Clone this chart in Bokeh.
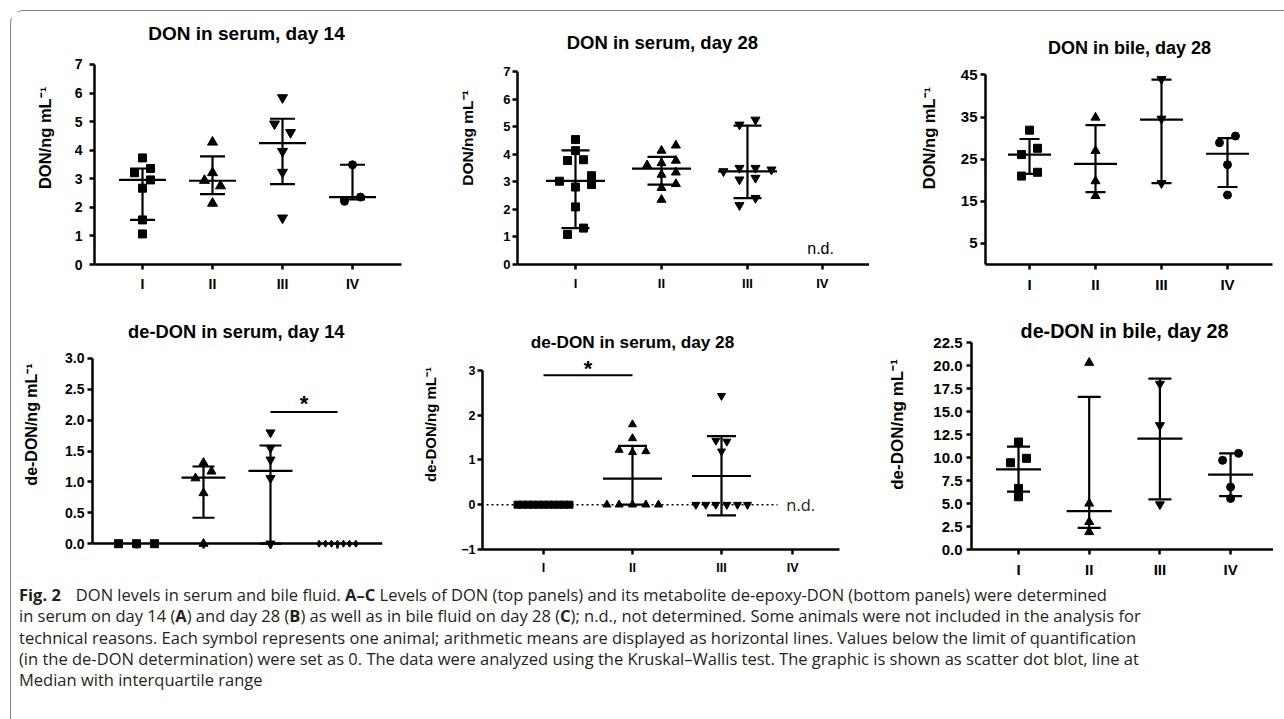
from bokeh.plotting import figure
from bokeh.layouts import row, column
from bokeh.models import Div, Label, FixedTicker, Range1d, NumeralTickFormatter
from bokeh.embed import file_html
from bokeh.resources import INLINE

GROUPS = ["I", "II", "III", "IV"]
MARKERS = ["square", "triangle", "inverted_triangle", "circle"]

# ---------------- A: DON in serum, day 14 (ng/mL) ----------------
don_s14_I = [3.73, 3.36, 3.21, 2.96, 2.67, 1.56, 1.07]
don_s14_II = [4.28, 3.21, 2.94, 2.75, 2.14]
don_s14_III = [5.84, 4.92, 4.62, 3.96, 3.23, 1.63]
don_s14_IV = [3.49, 2.36, 2.21]
don_s14_slots = [[0, 1, -1, 1, 0, 0, 0], [0, 0, -1, 1, 0], [0, -1, 1, 0, 0, 0], [0, 1, -1]]
don_s14_median = [2.96, 2.93, 4.25, 2.36]
don_s14_q1 = [1.56, 2.46, 2.81, 2.28]
don_s14_q3 = [3.36, 3.78, 5.10, 3.49]

# ---------------- B: DON in serum, day 28 ----------------
don_s28_I = [4.53, 4.13, 3.77, 3.80, 3.02, 3.22, 2.90, 2.81, 2.09, 1.32, 1.09]
don_s28_II = [4.32, 4.13, 3.60, 3.68, 3.77, 3.34, 3.26, 2.78, 2.92, 2.35]
don_s28_III = [5.07, 5.25, 3.38, 3.50, 3.50, 3.44, 3.08, 3.14, 2.41, 2.15]
don_s28_slots = [[0, 0, -1, 1, -2, 2, 2, 0, 0, 1, -1],
                 [1.8, 0, -1.8, 0, 1.8, 1.8, 0, 0, 1.8, 0],
                 [-1, 1, -3, -1, 1, 3, -1, 1, 1, -1]]
don_s28_median = [3.03, 3.48, 3.38]
don_s28_q1 = [1.32, 2.90, 2.41]
don_s28_q3 = [4.14, 3.90, 5.04]

# ---------------- C: DON in bile, day 28 ----------------
don_b28_I = [31.9, 27.6, 26.1, 21.9, 21.0]
don_b28_II = [34.9, 27.0, 19.8, 16.3]
don_b28_III = [44.0, 34.6, 19.3]
don_b28_IV = [28.9, 30.5, 23.7, 16.5]
don_b28_slots = [[0, 1, -1, 1, -1], [0, 0, 0, 0], [0, 0, 0], [-1, 1, 0, 0]]
don_b28_median = [26.1, 23.9, 34.4, 26.3]
don_b28_q1 = [21.5, 17.2, 19.3, 18.4]
don_b28_q3 = [29.8, 33.1, 43.9, 30.0]

# ---------------- D: de-DON in serum, day 14 ----------------
dedon_s14_I = [0, 0, 0]
dedon_s14_II = [1.31, 1.17, 1.06, 0.82, 0.0]
dedon_s14_III = [1.80, 1.55, 1.36, 1.06, 0.0]
dedon_s14_IV = [0, 0, 0, 0, 0, 0, 0]
dedon_s14_slots = [[-2.25, 0, 2.25], [0, 1, -1, 0, 0], [0, 0, 0, 0, 0],
                   [-2.3, -1.5, -0.75, 0, 0.75, 1.5, 2.3]]
dedon_s14_stat_groups = [2, 3]
dedon_s14_median = [1.07, 1.18]
dedon_s14_q1 = [0.42, 0.0]
dedon_s14_q3 = [1.25, 1.59]

# ---------------- E: de-DON in serum, day 28 ----------------
dedon_s28_I = [0, 0, 0, 0, 0, 0, 0, 0, 0, 0, 0]
dedon_s28_II = [1.79, 1.48, 1.22, 1.17, 1.19, 0, 0, 0, 0, 0]
dedon_s28_III = [2.43, 1.43, 1.41, 1.19, 0, 0, 0, 0, 0, 0]
dedon_s28_slots = [[-3.25, -2.6, -1.95, -1.3, -0.65, 0, 0.65, 1.3, 1.95, 2.6, 3.25],
                   [0, 0, -1.67, 0, 1.67, -3.2, -1.67, 0, 1.67, 3.25],
                   [0, -0.7, 0.67, 0, -3.2, -1.96, -0.71, 0.67, 2.0, 3.25]]
dedon_s28_stat_groups = [2, 3]
dedon_s28_median = [0.58, 0.64]
dedon_s28_q1 = [0.0, -0.24]
dedon_s28_q3 = [1.31, 1.53]

# ---------------- F: de-DON in bile, day 28 ----------------
dedon_b28_I = [11.68, 9.91, 9.43, 6.64, 5.73]
dedon_b28_II = [20.3, 5.0, 3.0, 1.9]
dedon_b28_III = [18.0, 13.5, 4.9]
dedon_b28_IV = [9.69, 10.45, 6.79, 5.55]
dedon_b28_slots = [[0, 1, -1, 0, 0], [0, 0, 0, 0], [0, 0, 0], [-1, 1, 0, 0]]
dedon_b28_median = [8.71, 4.17, 12.05, 8.13]
dedon_b28_q1 = [6.28, 2.36, 5.44, 5.81]
dedon_b28_q3 = [11.18, 16.6, 18.58, 10.45]

INK = "#000000"
AXFONT = "Liberation Sans"
CAPFONT = "Open Sans"
SLOT_PX = 8.0


def make_panel(w, h, left, right, bottom, xr, ybounds, head_px, axis_px, xticks, yticks,
               ylabel, fs_tick, fs_label, y_standoff, label_standoff, yfmt=None):
    """axis_px: pixel length of the y axis; head_px: free space above it (for the title)."""
    y0, y1 = ybounds
    ppu = axis_px / (y1 - y0)
    ytop = y1 + head_px / ppu
    p = figure(width=w, height=h, x_range=Range1d(*xr), y_range=Range1d(y0, ytop),
               output_backend="svg", toolbar_location=None, title=None,
               min_border_left=left, min_border_right=right,
               min_border_top=0, min_border_bottom=h - head_px - axis_px)
    p.grid.visible = False
    p.outline_line_color = None
    p.background_fill_color = "white"
    p.border_fill_color = "white"
    xa, ya = p.xaxis[0], p.yaxis[0]
    for ax in (xa, ya):
        ax.axis_line_width = 2.5
        ax.axis_line_color = INK
        ax.major_tick_line_width = 2.5
        ax.major_tick_line_color = INK
        ax.major_tick_out = 5
        ax.major_tick_in = 0
        ax.minor_tick_line_color = None
        ax.major_label_text_font = AXFONT
        ax.major_label_text_font_style = "bold"
        ax.major_label_text_font_size = f"{fs_tick}px"
        ax.major_label_text_color = INK
    xa.ticker = FixedTicker(ticks=xticks)
    xa.major_label_overrides = dict(zip(xticks, GROUPS))
    xa.major_label_standoff = 6
    ya.ticker = FixedTicker(ticks=yticks)
    ya.bounds = (y0, y1)
    if yfmt:
        ya.formatter = NumeralTickFormatter(format=yfmt)
    ya.major_label_standoff = y_standoff
    ya.axis_label = ylabel
    ya.axis_label_text_font = AXFONT
    ya.axis_label_text_font_style = "bold"
    ya.axis_label_text_font_size = f"{fs_label}px"
    ya.axis_label_text_color = INK
    ya.axis_label_standoff = label_standoff
    p._unit = (xr[1] - xr[0]) / (w - left - right)  # data units per pixel
    return p


def add_points(p, groups, slots, sizes, markers=MARKERS):
    for gi, (vals, sl) in enumerate(zip(groups, slots)):
        xs = [gi + 1 + s * SLOT_PX * p._unit for s in sl]
        p.scatter(xs, vals, marker=markers[gi], size=sizes[gi],
                  fill_color=INK, line_color=INK)


def add_stats(p, gx, med, q1, q3, med_px, cap_px, lw=2.2):
    p.segment(x0=gx, y0=q1, x1=gx, y1=q3, line_width=lw, line_color=INK)
    p.scatter(gx, med, marker="dash", size=med_px, line_width=lw, line_color=INK)
    p.scatter(gx + gx, q1 + q3, marker="dash", size=cap_px, line_width=lw, line_color=INK)


def add_text(p, x, y, text, fs, bold=True, font=AXFONT, color=INK):
    p.add_layout(Label(x=x, y=y, text=text, text_font=font,
                       text_font_style="bold" if bold else "normal",
                       text_font_size=f"{fs}px", text_align="center",
                       text_baseline="middle", text_color=color))


SUP = "/ng mL\u207b\u00b9"

# A  (figure top at page y=12; axis 66..268)
pA = make_panel(418, 288, 83, 28, 30, (0.314, 4.7), (0, 7), 54, 204, [1, 2, 3, 4],
                [0, 1, 2, 3, 4, 5, 6, 7], "DON" + SUP, 14, 16.5, 7, 18)
add_stats(pA, [1, 2, 3, 4], don_s14_median, don_s14_q1, don_s14_q3, 47, 25)
add_points(pA, [don_s14_I, don_s14_II, don_s14_III, don_s14_IV], don_s14_slots, [8, 10, 10, 8])
add_text(pA, 2.486, 8.07, "DON in serum, day 14", 19)

# B  (axis 72..265)
pB = make_panel(440, 288, 88, 0, 35, (0.3256, 4.419), (0, 7), 60, 193, [1, 2, 3, 3.87],
                [0, 1, 2, 3, 4, 5, 6, 7], "DON" + SUP, 13, 15.5, 2, 24)
add_stats(pB, [1, 2, 3], don_s28_median, don_s28_q1, don_s28_q3, 59, 28)
add_points(pB, [don_s28_I, don_s28_II, don_s28_III], don_s28_slots, [8, 9, 9])
add_text(pB, 2.01, 8.05, "DON in serum, day 28", 18.5)
add_text(pB, 3.85, 0.58, "n.d.", 16, bold=False)

# C  (axis 77..269)
pC = make_panel(404, 288, 116, 1, 29, (0.333, 4.682), (0, 45), 65, 194, [1, 2, 3, 4],
                [5, 15, 25, 35, 45], "DON" + SUP, 15, 16.5, 3, 20)
add_stats(pC, [1, 2, 3, 4], don_b28_median, don_b28_q1, don_b28_q3, 43, 20)
add_points(pC, [don_b28_I, don_b28_II, don_b28_III, don_b28_IV], don_b28_slots, [8, 9, 9, 8])
add_text(pC, 2.515, 51.3, "DON in bile, day 28", 18)

# D  (figure top at 300; axis 361..553, x axis at 0, room below for markers)
pD = make_panel(408, 285, 81, 37, 26, (0.3433, 4.672), (-0.094, 3.0), 61, 198, [1, 2, 3, 4],
                [0, 0.5, 1, 1.5, 2, 2.5, 3], "de-DON" + SUP, 14, 16, 3, 22, yfmt="0.0")
pD.xaxis[0].fixed_location = 0
pD.yaxis[0].bounds = (0, 3)
add_stats(pD, dedon_s14_stat_groups, dedon_s14_median, dedon_s14_q1, dedon_s14_q3, 44, 22)
add_points(pD, [dedon_s14_I, dedon_s14_II, dedon_s14_III, dedon_s14_IV], dedon_s14_slots,
           [8, 9, 9, 7], markers=["square", "triangle", "inverted_triangle", "diamond"])
add_text(pD, 2.49, 3.44, "de-DON in serum, day 14", 18.3)
pD.segment(x0=[3], y0=[2.13], x1=[4], y1=[2.13], line_width=2, line_color=INK)
add_text(pD, 3.5, 2.27, "*", 22)

# E  (axis 371..551)
pE = make_panel(440, 285, 63, 20, 34, (0.3146, 4.326), (-1, 3), 71, 180, [1, 2, 3, 3.8],
                [-1, 0, 1, 2, 3], "de-DON" + SUP, 12.5, 15, 2, 19)
pE.segment(x0=[1 - 0.64], y0=[0], x1=[3 + 0.63], y1=[0], line_width=1.5,
           line_color=INK, line_dash="2 3")
add_stats(pE, dedon_s28_stat_groups, dedon_s28_median, dedon_s28_q1, dedon_s28_q3, 59, 29)
add_points(pE, [dedon_s28_I, dedon_s28_II, dedon_s28_III], dedon_s28_slots, [7, 8, 8])
add_text(pE, 2.0, 3.62, "de-DON in serum, day 28", 17.2)
pE.segment(x0=[1], y0=[2.89], x1=[2], y1=[2.89], line_width=2, line_color=INK)
add_text(pE, 1.5, 3.04, "*", 22)
add_text(pE, 3.89, 0.0, "n.d.", 16.5, bold=False, font=CAPFONT, color="#231f20")

# F  (axis 343..550)
pF = make_panel(414, 285, 112, 0, 35, (0.335, 4.607), (0, 22.5), 43, 207, [1, 2, 3, 4],
                [0, 2.5, 5, 7.5, 10, 12.5, 15, 17.5, 20, 22.5], "de-DON" + SUP, 15, 17, 4, 23,
                yfmt="0.0")
add_stats(pF, [1, 2, 3, 4], dedon_b28_median, dedon_b28_q1, dedon_b28_q3, 45, 23)
add_points(pF, [dedon_b28_I, dedon_b28_II, dedon_b28_III, dedon_b28_IV], dedon_b28_slots,
           [8, 9, 9, 8])
add_text(pF, 2.5, 23.7, "de-DON in bile, day 28", 19.7)

caption_lines = [
    '<b>Fig.&nbsp;2</b><span style="display:inline-block;width:15px"></span>DON levels in serum and bile fluid. '
    '<b>A\u2013C</b> Levels of DON (top panels) and its metabolite de-epoxy-DON (bottom panels) were determined',
    'in serum on day 14 (<b>A</b>) and day 28 (<b>B</b>) as well as in bile fluid on day 28 (<b>C</b>); '
    'n.d., not determined. Some animals were not included in the analysis for',
    'technical reasons. Each symbol represents one animal; arithmetic means are displayed as horizontal '
    'lines. Values below the limit of quantification',
    '(in the de-DON determination) were set as 0. The data were analyzed using the Kruskal\u2013Wallis '
    'test. The graphic is shown as scatter dot blot, line at',
    'Median with interquartile range',
]
caption = Div(text='<div style="position:relative;top:-5px">' + "<br>".join(caption_lines) + "</div>",
              width=1264, height=125,
              styles={"font-family": "'Open Sans'", "font-size": "16.5px",
                      "line-height": "21.3px", "color": "#231f20",
                      "white-space": "nowrap", "padding-left": "3px"})

root = column(row(pA, pB, pC), row(pD, pE, pF), caption, margin=(10, 0, 0, 10),
              styles={"border-top": "1.5px solid #808080", "border-left": "1.5px solid #808080",
                      "border-top-left-radius": "14px"})

open("out.html", "w").write(file_html(root, INLINE))
